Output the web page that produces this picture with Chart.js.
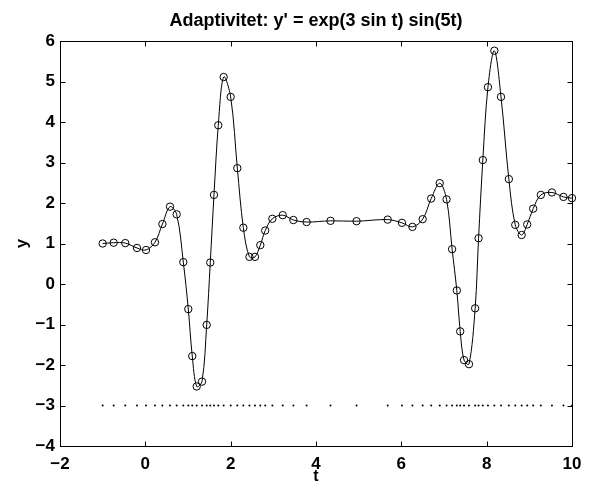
<!DOCTYPE html>
<html>
<head>
<meta charset="utf-8">
<script src="https://cdn.jsdelivr.net/npm/chart.js@4/dist/chart.umd.min.js"></script>
<style>
html,body{margin:0;padding:0;background:#fff;}
#wrap{width:591px;height:486px;position:relative;}
</style>
</head>
<body>
<div id="wrap"><canvas id="c" width="591" height="486"></canvas></div>
<script>
const tValues = [-1, -0.742, -0.47, -0.195, 0.016, 0.226, 0.40, 0.578, 0.734, 0.89, 1.007, 1.10, 1.204, 1.328, 1.438, 1.522, 1.609, 1.71, 1.836, 2.0, 2.156, 2.297, 2.44, 2.57, 2.695, 2.81, 2.977, 3.22, 3.47, 3.78, 4.34, 4.95, 5.68, 6.015, 6.26, 6.50, 6.70, 6.90, 7.06, 7.19, 7.30, 7.38, 7.47, 7.585, 7.73, 7.81, 7.91, 8.03, 8.18, 8.336, 8.52, 8.67, 8.82, 8.95, 9.09, 9.27, 9.53, 9.80, 10.0];
const yValues = [1.0, 1.02, 1.01, 0.89, 0.84, 1.03, 1.48, 1.91, 1.72, 0.54, -0.62, -1.78, -2.53, -2.41, -1.01, 0.53, 2.20, 3.92, 5.11, 4.62, 2.86, 1.39, 0.67, 0.67, 0.96, 1.32, 1.61, 1.70, 1.58, 1.53, 1.56, 1.55, 1.59, 1.51, 1.41, 1.60, 2.11, 2.49, 2.09, 0.86, -0.16, -1.17, -1.88, -1.98, -0.60, 1.13, 3.06, 4.86, 5.76, 4.62, 2.59, 1.46, 1.21, 1.47, 1.86, 2.20, 2.26, 2.15, 2.12];
const stepMarkerLevel = -3;
const xTicks = [-2, 0, 2, 4, 6, 8, 10];
const yTicks = [-4, -3, -2, -1, 0, 1, 2, 3, 4, 5, 6];
const titleText = "Adaptivitet: y' = exp(3 sin t) sin(5t)";
const xLabel = 't';
const yLabel = 'y';

const FONT = '"Liberation Sans", Arial, Helvetica, sans-serif';
const solution = tValues.map((t, i) => ({x: t, y: yValues[i]}));
const steps = tValues.map(t => ({x: t, y: stepMarkerLevel}));
const fmt = v => String(v).replace('-', '\u2212');

const boxPlugin = {
  id: 'box',
  afterDraw(chart) {
    const {ctx, chartArea: a, scales: {x, y}} = chart;
    ctx.save();
    ctx.strokeStyle = '#000';
    ctx.lineWidth = 1;
    const L = Math.round(a.left) + 0.5, R = Math.round(a.right) + 0.5;
    const T = Math.round(a.top) + 0.5, B = Math.round(a.bottom) + 0.5;
    ctx.strokeRect(L, T, R - L, B - T);
    const tl = 5;
    ctx.beginPath();
    xTicks.forEach(v => {
      const px = Math.round(x.getPixelForValue(v)) + 0.5;
      ctx.moveTo(px, B); ctx.lineTo(px, B - tl);
      ctx.moveTo(px, T); ctx.lineTo(px, T + tl);
    });
    yTicks.forEach(v => {
      const py = Math.round(y.getPixelForValue(v)) + 0.5;
      ctx.moveTo(L, py); ctx.lineTo(L + tl, py);
      ctx.moveTo(R, py); ctx.lineTo(R - tl, py);
    });
    ctx.stroke();
    // title centred over the axes box
    ctx.fillStyle = '#000';
    ctx.font = 'bold 18px ' + FONT;
    ctx.textAlign = 'center';
    ctx.textBaseline = 'middle';
    ctx.fillText(titleText, (a.left + a.right) / 2, 21);
    ctx.restore();
  }
};

new Chart(document.getElementById('c'), {
  type: 'scatter',
  data: {
    datasets: [
      {
        data: solution,
        showLine: true,
        clip: false,
        borderColor: '#000',
        borderWidth: 1,
        tension: 0.35,
        pointStyle: 'circle',
        pointRadius: 3.7,
        pointBorderWidth: 1,
        pointBorderColor: '#000',
        pointBackgroundColor: 'rgba(0,0,0,0)',
        order: 1
      },
      {
        data: steps,
        showLine: false,
        clip: false,
        pointRadius: 1,
        pointBorderWidth: 0,
        pointBackgroundColor: '#000',
        pointBorderColor: '#000',
        order: 2
      }
    ]
  },
  options: {
    responsive: false,
    animation: false,
    devicePixelRatio: 1,
    layout: {padding: {left: 0, right: 19, top: 41, bottom: 0}},
    plugins: {
      legend: {display: false},
      tooltip: {enabled: false},
      title: {display: false}
    },
    scales: {
      x: {
        type: 'linear',
        min: -2, max: 10,
        afterBuildTicks: s => { s.ticks = xTicks.map(v => ({value: v})); },
        afterFit: s => { s.height = 40; },
        grid: {display: false, drawTicks: false},
        border: {display: false},
        ticks: {
          color: '#000', padding: 8,
          font: {family: FONT, size: 17, weight: 'bold'},
          callback: v => fmt(v), maxRotation: 0, autoSkip: false
        },
        title: {
          display: true, text: xLabel, color: '#000',
          font: {family: FONT, size: 16, weight: 'bold'},
          padding: {top: 0, bottom: 0}
        }
      },
      y: {
        type: 'linear',
        min: -4, max: 6,
        afterBuildTicks: s => { s.ticks = yTicks.map(v => ({value: v})); },
        afterFit: s => { s.width = 60; },
        grid: {display: false, drawTicks: false},
        border: {display: false},
        ticks: {
          color: '#000', padding: 5,
          font: {family: FONT, size: 17, weight: 'bold'},
          callback: v => fmt(v), autoSkip: false
        },
        title: {
          display: true, text: yLabel, color: '#000',
          font: {family: FONT, size: 17, weight: 'bold'},
          padding: {top: 12, bottom: 0}
        }
      }
    }
  },
  plugins: [boxPlugin]
});
</script>
</body>
</html>
